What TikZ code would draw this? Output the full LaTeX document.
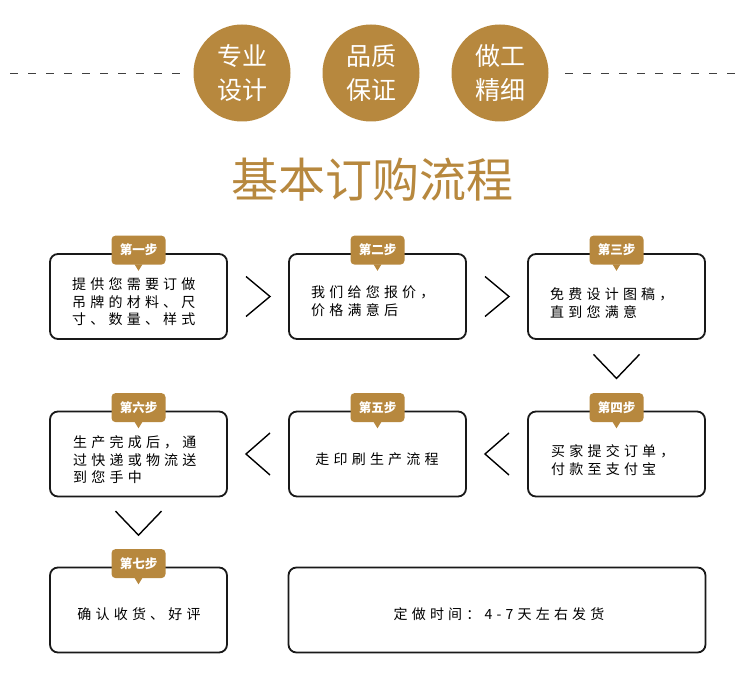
\documentclass[tikz,border=0pt]{standalone}
\usepackage{fontspec}
\setmainfont{Noto Sans CJK SC}
\newfontfamily\cjksp[LetterSpace=30]{Noto Sans CJK SC}
\usetikzlibrary{calc}
\definecolor{gold}{RGB}{183,136,62}
\tikzset{
  circ/.style={circle, fill=gold, minimum size=97, inner sep=0, text=white, align=center, font=\fontsize{25}{34}\selectfont},
  dashline/.style={draw=black!75, line width=0.9, dash pattern=on 8 off 10},
  titletext/.style={text=gold, font=\fontsize{47}{50}\selectfont, inner sep=0},
  stepbox/.style={draw=black!90, line width=1.8, rounded corners=8, minimum width=177, minimum height=85, inner sep=0},
  steplabel/.style={fill=gold, rounded corners=4, minimum width=54, minimum height=29, inner sep=0, text=white, font=\fontsize{12.5}{14}\selectfont\bfseries},
  body/.style={align=left, anchor=west, inner sep=0, font=\cjksp\fontsize{14}{17.5}\selectfont},
  bodyc/.style={align=center, inner sep=0, font=\cjksp\fontsize{14}{17.5}\selectfont},
  chev/.style={draw=black, line width=1.4, line join=miter}
}
\newcommand{\steplab}[3]{%
  \node[steplabel] (#1) at ($(#2.north)+(0,-3)$) {#3};
  \fill[gold] ($(#1.south)+(-4,-0.5)$) -- ($(#1.south)+(0,6)$) -- ($(#1.south)+(4,-0.5)$) -- cycle;
}
\begin{document}
\begin{tikzpicture}[x=1pt,y=-1pt]
\useasboundingbox (0,0) rectangle (750,676);
\fill[white] (0,0) rectangle (750,676);
% top circles
\node[circ] (c1) at (242,73) {专业\\设计};
\node[circ] (c2) at (371,73) {品质\\保证};
\node[circ] (c3) at (500,73) {做工\\精细};
\coordinate (dl1) at (10,73); \coordinate (dl2) at (182,73);
\coordinate (dr1) at (565,73); \coordinate (dr2) at (742,73);
\draw[dashline] (dl1) -- (dl2);
\draw[dashline] (dr1) -- (dr2);
% title
\node[titletext] (title) at (372,180) {基本订购流程};
% boxes
\node[stepbox] (b1) at (138.5,296.5) {};
\node[stepbox] (b2) at (377.5,296.5) {};
\node[stepbox] (b3) at (616.5,296.5) {};
\node[stepbox] (b4) at (616.5,454) {};
\node[stepbox] (b5) at (377.5,454) {};
\node[stepbox] (b6) at (138.5,454) {};
\node[stepbox] (b7) at (138.5,610) {};
\node[stepbox, minimum width=417] (b8) at (497,610) {};
% labels
\steplab{l1}{b1}{第一步}
\steplab{l2}{b2}{第二步}
\steplab{l3}{b3}{第三步}
\steplab{l4}{b4}{第四步}
\steplab{l5}{b5}{第五步}
\steplab{l6}{b6}{第六步}
\steplab{l7}{b7}{第七步}
% texts
\node[body] (t1) at (72,302) {提供您需要订做\\吊牌的材料、尺\\寸、数量、样式};
\node[body] (t2) at (311,301) {我们给您报价，\\价格满意后};
\node[body] (t3) at (550,303) {免费设计图稿，\\直到您满意};
\node[body] (t4) at (551,460) {买家提交订单，\\付款至支付宝};
\node[bodyc] (t5) at (377,459) {走印刷生产流程};
\node[body] (t6) at (73,460) {生产完成后，通\\过快递或物流送\\到您手中};
\node[bodyc] (t7) at (139,614) {确认收货、好评};
\node[bodyc] (t8) at (499,614) {定做时间：4-7天左右发货};
% chevrons
\coordinate (r1) at ($(b1.east)!0.5!(b2.west)$);
\draw[chev] ($(r1)+(-12,-20)$) -- ($(r1)+(12,0)$) -- ($(r1)+(-12,20)$);
\coordinate (r2) at ($(b2.east)!0.5!(b3.west)$);
\draw[chev] ($(r2)+(-12,-20)$) -- ($(r2)+(12,0)$) -- ($(r2)+(-12,20)$);
\coordinate (d1) at ($(b3.south)!0.5!(l4.north)$);
\draw[chev] ($(d1)+(-23,-12)$) -- ($(d1)+(0,12)$) -- ($(d1)+(23,-12)$);
\coordinate (r3) at ($(b5.east)!0.5!(b4.west)$);
\draw[chev] ($(r3)+(12,-21)$) -- ($(r3)+(-12,0)$) -- ($(r3)+(12,21)$);
\coordinate (r4) at ($(b6.east)!0.5!(b5.west)$);
\draw[chev] ($(r4)+(12,-21)$) -- ($(r4)+(-12,0)$) -- ($(r4)+(12,21)$);
\coordinate (d2) at ($(b6.south)!0.5!(l7.north)$);
\draw[chev] ($(d2)+(-23,-12)$) -- ($(d2)+(0,12)$) -- ($(d2)+(23,-12)$);
\end{tikzpicture}
\end{document}
